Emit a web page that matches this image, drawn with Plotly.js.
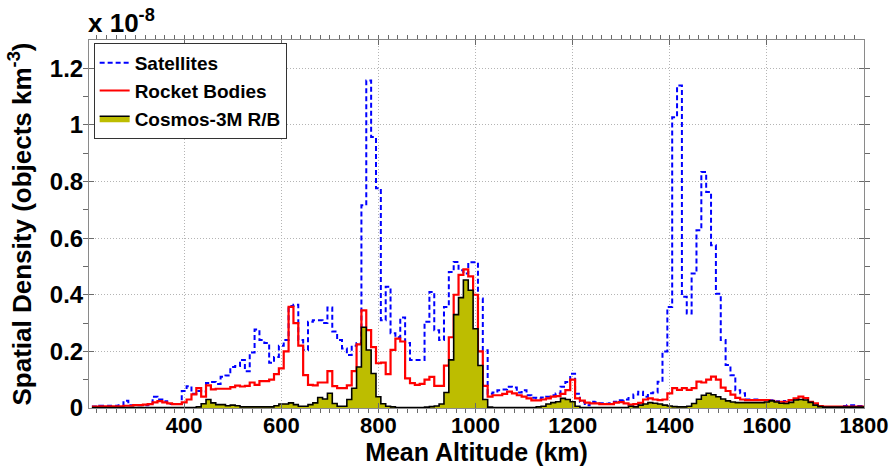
<!DOCTYPE html>
<html>
<head>
<meta charset="utf-8">
<script src="https://cdn.plot.ly/plotly-3.0.1.min.js"></script>
<style>
  html, body { margin: 0; padding: 0; background: #ffffff; }
  #chart { width: 893px; height: 466px; }
</style>
</head>
<body>
<div id="chart"></div>
<script>
// Mean altitude bin centres (km), 10 km bins
const altitude = [
  210,220,230,240,250,260,270,280,290,300,
  310,320,330,340,350,360,370,380,390,400,
  410,420,430,440,450,460,470,480,490,500,
  510,520,530,540,550,560,570,580,590,600,
  610,620,630,640,650,660,670,680,690,700,
  710,720,730,740,750,760,770,780,790,800,
  810,820,830,840,850,860,870,880,890,900,
  910,920,930,940,950,960,970,980,990,1000,
  1010,1020,1030,1040,1050,1060,1070,1080,1090,1100,
  1110,1120,1130,1140,1150,1160,1170,1180,1190,1200,
  1210,1220,1230,1240,1250,1260,1270,1280,1290,1300,
  1310,1320,1330,1340,1350,1360,1370,1380,1390,1400,
  1410,1420,1430,1440,1450,1460,1470,1480,1490,1500,
  1510,1520,1530,1540,1550,1560,1570,1580,1590,1600,
  1610,1620,1630,1640,1650,1660,1670,1680,1690,1700,
  1710,1720,1730,1740,1750,1760,1770,1780,1790,1800
];

// Spatial density, units of 1e-8 objects/km^3
const satellites = [
  0.005,0.005,0.008,0.008,0.008,0.008,0.01,0.026,0.01,0.01,
  0.01,0.01,0.012,0.04,0.03,0.024,0.014,0.014,0.014,0.06,
  0.077,0.05,0.06,0.058,0.088,0.092,0.085,0.11,0.115,0.145,
  0.148,0.17,0.13,0.196,0.277,0.24,0.23,0.16,0.18,0.22,
  0.24,0.36,0.365,0.24,0.205,0.305,0.31,0.31,0.30,0.355,
  0.27,0.24,0.21,0.187,0.22,0.23,0.716,1.157,0.957,0.776,
  0.31,0.428,0.264,0.25,0.32,0.23,0.17,0.17,0.17,0.305,
  0.41,0.275,0.24,0.357,0.48,0.516,0.487,0.475,0.515,0.515,
  0.387,0.204,0.05,0.055,0.063,0.065,0.075,0.072,0.055,0.063,
  0.045,0.036,0.034,0.037,0.04,0.045,0.051,0.075,0.092,0.121,
  0.05,0.022,0.01,0.022,0.02,0.017,0.015,0.017,0.022,0.027,
  0.03,0.035,0.048,0.057,0.04,0.052,0.055,0.093,0.2,0.357,
  1.027,1.139,0.393,0.334,0.475,0.628,0.834,0.763,0.575,0.404,
  0.24,0.152,0.116,0.063,0.052,0.03,0.03,0.03,0.028,0.028,
  0.027,0.024,0.02,0.025,0.028,0.03,0.024,0.018,0.012,0.007,
  0.005,0.003,0.003,0.003,0.003,0.007,0.01,0.01,0.007,0.005
];

const rocketBodies = [
  0.005,0.005,0.006,0.006,0.006,0.006,0.006,0.008,0.008,0.01,
  0.01,0.012,0.014,0.02,0.024,0.02,0.016,0.014,0.014,0.02,
  0.03,0.048,0.07,0.04,0.08,0.066,0.068,0.068,0.068,0.074,
  0.079,0.076,0.078,0.09,0.082,0.095,0.095,0.1,0.12,0.14,
  0.2,0.357,0.3,0.22,0.116,0.082,0.08,0.09,0.09,0.13,
  0.077,0.07,0.07,0.08,0.13,0.225,0.345,0.275,0.215,0.158,
  0.16,0.12,0.205,0.245,0.235,0.105,0.088,0.082,0.085,0.1,
  0.11,0.078,0.078,0.15,0.25,0.4,0.47,0.49,0.465,0.4,
  0.2,0.078,0.04,0.045,0.045,0.05,0.058,0.052,0.045,0.04,
  0.034,0.027,0.027,0.03,0.034,0.04,0.042,0.05,0.063,0.1,
  0.034,0.026,0.019,0.016,0.016,0.014,0.014,0.014,0.019,0.021,
  0.016,0.012,0.014,0.018,0.03,0.034,0.03,0.028,0.03,0.052,
  0.07,0.064,0.07,0.064,0.07,0.093,0.09,0.1,0.111,0.1,
  0.072,0.06,0.047,0.036,0.03,0.028,0.028,0.028,0.028,0.028,
  0.025,0.022,0.022,0.022,0.028,0.034,0.04,0.035,0.022,0.016,
  0.007,0.005,0.005,0.005,0.005,0.005,0.005,0.005,0.005,0.005
];

const cosmos3M = [
  0.002,0.002,0.002,0.002,0.002,0.002,0.002,0.002,0.002,0.002,
  0.002,0.002,0.002,0.002,0.002,0.002,0.002,0.002,0.002,0.002,
  0.002,0.002,0.004,0.015,0.03,0.018,0.012,0.012,0.008,0.01,
  0.008,0.004,0.004,0.004,0.004,0.004,0.004,0.004,0.008,0.014,
  0.014,0.018,0.012,0.006,0.006,0.012,0.018,0.037,0.032,0.052,
  0.016,0.006,0.006,0.03,0.07,0.145,0.285,0.205,0.122,0.04,
  0.015,0.006,0.004,0.002,0.002,0.002,0.002,0.002,0.002,0.003,
  0.005,0.007,0.014,0.055,0.17,0.33,0.39,0.452,0.416,0.28,
  0.15,0.03,0.003,0.002,0.002,0.002,0.002,0.002,0.002,0.002,
  0.002,0.002,0.004,0.006,0.014,0.019,0.022,0.034,0.03,0.022,
  0.006,0.002,0.002,0.002,0.002,0.002,0.002,0.002,0.002,0.002,
  0.002,0.006,0.004,0.01,0.014,0.019,0.017,0.014,0.01,0.007,
  0.005,0.004,0.004,0.006,0.016,0.031,0.045,0.052,0.047,0.04,
  0.032,0.025,0.021,0.019,0.019,0.019,0.019,0.019,0.019,0.021,
  0.025,0.021,0.017,0.016,0.02,0.028,0.03,0.028,0.02,0.01,
  0.005,0.003,0.003,0.003,0.003,0.003,0.003,0.003,0.003,0.003
];

const seriesNames = ['Satellites', 'Rocket Bodies', 'Cosmos-3M R/B'];
const xTickVals = [400, 600, 800, 1000, 1200, 1400, 1600, 1800];
const xTickText = ['400', '600', '800', '1000', '1200', '1400', '1600', '1800'];

const FONT = 'Liberation Sans, Arial, Helvetica, sans-serif';

const traces = [
  {
    x: altitude, y: satellites, name: seriesNames[0], type: 'scatter', mode: 'lines',
    line: { shape: 'hvh', color: 'rgb(0,0,255)', width: 2, dash: '5px,3px' }
  },
  {
    x: altitude, y: rocketBodies, name: seriesNames[1], type: 'scatter', mode: 'lines',
    line: { shape: 'hvh', color: 'rgb(255,0,0)', width: 2.2 }
  },
  {
    x: altitude, y: cosmos3M, name: seriesNames[2], type: 'scatter', mode: 'lines',
    fill: 'tozeroy', fillcolor: 'rgb(189,189,0)',
    line: { shape: 'hvh', color: 'rgb(0,0,0)', width: 1.6 }
  }
];

const axisCommon = {
  showline: true, linecolor: '#8a8a8a', linewidth: 1, mirror: 'ticks',
  ticks: 'inside', ticklen: 5, tickcolor: '#6a6a6a', tickwidth: 1,
  showgrid: true, gridcolor: '#b4b4b4', griddash: '1px,2px', gridwidth: 1,
  zeroline: false,
  tickfont: { family: FONT, size: 24, weight: 'bold', color: '#000' }
};

const layout = {
  width: 893, height: 466,
  margin: { l: 89, r: 29, t: 40, b: 58 },
  paper_bgcolor: '#ffffff', plot_bgcolor: '#ffffff',
  showlegend: true,
  legend: {
    x: 0.006, y: 0.992, xanchor: 'left', yanchor: 'top',
    bgcolor: '#ffffff', bordercolor: '#333333', borderwidth: 1,
    font: { family: FONT, size: 19, weight: 'bold', color: '#000' },
    itemwidth: 30, tracegroupgap: 0
  },
  xaxis: Object.assign({}, axisCommon, {
    range: [204, 1800],
    tickmode: 'array', tickvals: xTickVals, ticktext: xTickText,
    tickfont: { family: FONT, size: 22, weight: 'bold', color: '#000' },
    ticklabelstandoff: -2,
    minor: { tick0: 0, dtick: 20, ticklen: 4, tickcolor: '#6a6a6a', showgrid: false },
    title: { text: 'Mean Altitude (km)', standoff: 3,
      font: { family: FONT, size: 25, weight: 'bold', color: '#000' } }
  }),
  yaxis: Object.assign({}, axisCommon, {
    range: [0, 1.3],
    tickmode: 'linear', tick0: 0, dtick: 0.2,
    minor: { tick0: 0, dtick: 0.1, ticklen: 5, tickcolor: '#6a6a6a', showgrid: false },
    title: { text: 'Spatial Density (objects km<sup>-3</sup>)', standoff: 10,
      font: { family: FONT, size: 26, weight: 'bold', color: '#000' } }
  }),
  annotations: [
    {
      xref: 'paper', yref: 'paper', x: 0, y: 1, xanchor: 'left', yanchor: 'bottom',
      xshift: -3, yshift: 0, showarrow: false,
      text: 'x 10<sup>-8</sup>',
      font: { family: FONT, size: 26, weight: 'bold', color: '#000' }
    }
  ]
};

Plotly.newPlot('chart', traces, layout, { displayModeBar: false, staticPlot: true });
</script>
</body>
</html>
